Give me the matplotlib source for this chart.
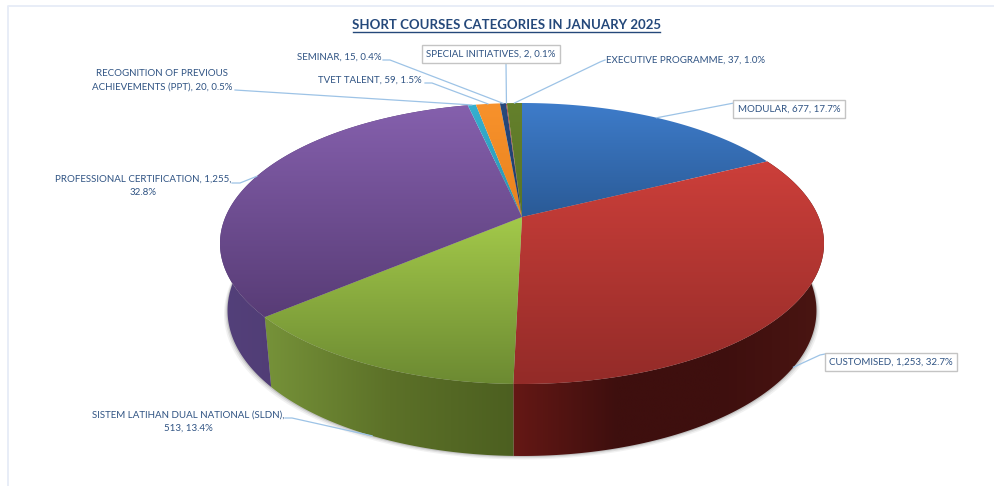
import numpy as np
import matplotlib
matplotlib.use('Agg')
import matplotlib.pyplot as plt
from matplotlib.colors import LinearSegmentedColormap
from matplotlib.patches import Polygon

plt.rcParams['font.family'] = ['Lato', 'DejaVu Sans']

# data, clockwise from 12 o'clock
categories = ['MODULAR', 'CUSTOMISED', 'SISTEM LATIHAN DUAL NATIONAL (SLDN)',
              'PROFESSIONAL CERTIFICATION', 'RECOGNITION OF PREVIOUS ACHIEVEMENTS (PPT)',
              'TVET TALENT', 'SEMINAR', 'SPECIAL INITIATIVES', 'EXECUTIVE PROGRAMME']
values = [677, 1253, 513, 1255, 20, 59, 15, 2, 37]
percents = ['17.7%', '32.7%', '13.4%', '32.8%', '0.5%', '1.5%', '0.4%', '0.1%', '1.0%']

# top surface gradient (back, front) and wall gradient (left to right)
top_colors = [('#3e7cca', '#2a5a96'), ('#cc3f3a', '#932b28'), ('#a3c94a', '#6c8a32'),
              ('#8560ad', '#583c76'), ('#35b0d0', '#2a93b0'), ('#f8922c', '#e8821e'),
              ('#27497c', '#1f3d6a'), ('#a5302c', '#a5302c'), ('#64802c', '#5a7426')]
wall_colors = [('#2a5a96', '#2a5a96'), ('#651815', '#3e0f0e', '#3e0f0e', '#4a1512'),
               ('#769239', '#5c7128', '#4c5f20'), ('#53407a', '#4b3468'), ('#2a93b0', '#2a93b0'),
               ('#b06010', '#b06010'), ('#1f3d6a', '#1f3d6a'), ('#70201c', '#70201c'),
               ('#4a5e20', '#4a5e20')]

# projected disc
CX, APEX_Y, W, H, K = 522, 217, 296.6, 135.5, 0.1886
SHRINK = 0.975


def project(angle):
    u, v = np.sin(angle), np.cos(angle)
    d = 1 + K * v
    return CX + W * u / d, APEX_Y - H * v / d


def project_base(angle, grow=0.0):
    # lower rim: a bit narrower, and the drop is biggest at the front
    x, y = project(angle)
    return CX + (x - CX) * (SHRINK + grow / 300), y + 66 - 6 * np.cos(angle) + grow


def gradient(ax, poly, colors, horizontal, z):
    cmap = LinearSegmentedColormap.from_list('g', list(colors))
    xs, ys = poly[:, 0], poly[:, 1]
    g = np.linspace(0, 1, 256)
    g = g[None, :] if horizontal else g[:, None]
    im = ax.imshow(g, cmap=cmap, aspect='auto', zorder=z, interpolation='bilinear',
                   extent=(xs.min(), xs.max(), ys.max(), ys.min()))
    p = Polygon(poly, closed=True, transform=ax.transData, fc='none', ec='none')
    ax.add_patch(p)
    im.set_clip_path(p)


fig = plt.figure(figsize=(9.94, 4.86), dpi=100)
ax = fig.add_axes([0, 0, 1, 1])

fracs = np.array(values) / sum(values)
edges = np.concatenate([[0], np.cumsum(fracs)]) * 2 * np.pi
mids = (edges[:-1] + edges[1:]) / 2

# soft shadow under the wall
rim = np.linspace(0, 2 * np.pi, 400)
for grow, alpha in [(3.5, 0.08), (2.2, 0.12), (1.0, 0.2)]:
    sx, sy = project_base(rim, grow)
    ax.fill(sx, sy, color='#555555', alpha=alpha, lw=0, zorder=1)

# walls
for i in range(len(values)):
    t = np.linspace(edges[i], edges[i + 1], 120)
    x0, y0 = project(t)
    x1, y1 = project_base(t)
    poly = np.column_stack([np.r_[x0, x1[::-1]], np.r_[y0, y1[::-1]]])
    # only the front part of the rim shows
    if np.cos(edges[i]) < 0.3 or np.cos(edges[i + 1]) < 0.3:
        gradient(ax, poly, wall_colors[i], True, 2 + i * 0.01)

# top surfaces
for i in range(len(values)):
    t = np.linspace(edges[i], edges[i + 1], 160)
    x, y = project(t)
    poly = np.column_stack([np.r_[CX, x], np.r_[APEX_Y, y]])
    gradient(ax, poly, top_colors[i], False, 3 + i * 0.01)

# leader lines: label side points, ending on the rim (or the lower rim for front slices)
leader_bends = [[(734, 103)], [(825, 354), (820, 355)], [(285, 418), (292, 418)],
                [(232, 183), (240, 183)], [(235, 90)], [(425, 83), (432, 83)],
                [(383, 60), (390, 60)], [(506, 63)], [(605, 60), (600, 62)]]
on_base = [False, True, True, False, False, False, False, False, False]
for i, bend in enumerate(leader_bends):
    ex, ey = project_base(mids[i]) if on_base[i] else project(mids[i])
    xs = [b[0] for b in bend] + [ex]
    ys = [b[1] for b in bend] + [ey]
    ax.plot(xs, ys, color='#9dc3e6', lw=0.9, zorder=4)

# labels
TEXT = '#2f5383'
FS = 7.0
box = dict(boxstyle='square,pad=0.45', fc='white', ec='#c4c4c4', lw=1.0)
label_text = [f'{c}, {v:,}, {p}' for c, v, p in zip(categories, values, percents)]
label_text[2] = f'{categories[2]},\n{values[2]:,}, {percents[2]}'
label_text[3] = f'{categories[3]}, {values[3]:,},\n{percents[3]}'
label_text[4] = f'RECOGNITION OF PREVIOUS\nACHIEVEMENTS (PPT), {values[4]}, {percents[4]}'
label_pos = [(789, 109), (891, 362), (188, 422), (143, 186), (162, 80), (370, 80), (339, 57),
             (491, 54), (686, 60)]
boxed = [True, True, False, False, False, False, False, True, False]
for s, (lx, ly), b in zip(label_text, label_pos, boxed):
    ax.text(lx, ly, s, color=TEXT, fontsize=FS, ha='center', va='center', linespacing=1.6,
            zorder=5, bbox=box if b else None)

# title with underline
ax.text(506, 25, 'SHORT COURSES CATEGORIES IN JANUARY 2025', color='#24487a', fontsize=9.5,
        fontweight='bold', ha='center', va='center', zorder=5)
ax.plot([353, 660], [32, 32], color='#24487a', lw=1.0, zorder=5)

# chart frame, only top and left show
ax.plot([8, 8, 994], [486, 6, 6], color='#e6ecf7', lw=1.3, zorder=0)

ax.set_xlim(0, 994)
ax.set_ylim(486, 0)
ax.axis('off')
fig.savefig('out.png', dpi=100, facecolor='white')
